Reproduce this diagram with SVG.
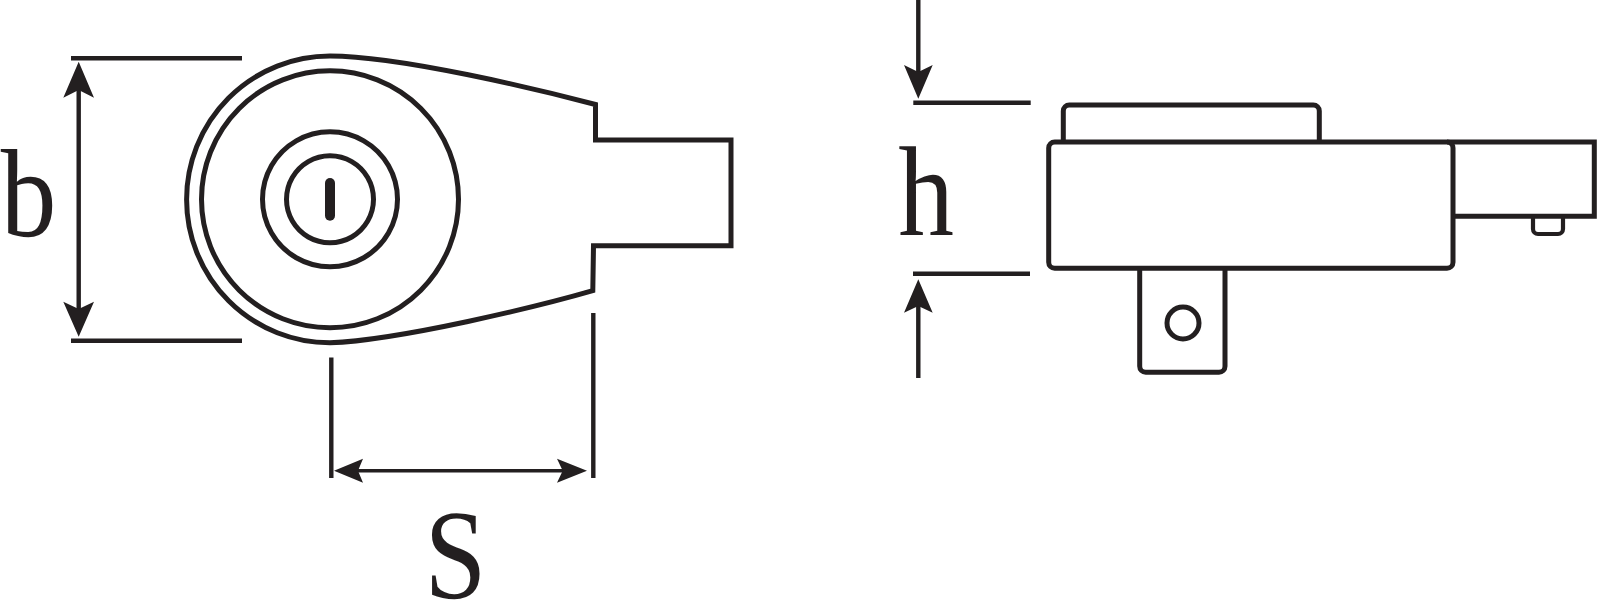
<svg xmlns="http://www.w3.org/2000/svg" width="1597" height="601" viewBox="0 0 1597 601">
<style>
.l{fill:none;stroke:#231f20;stroke-width:5;stroke-linejoin:miter}
.d{fill:none;stroke:#231f20;stroke-width:4.400}
.h{fill:#231f20;stroke:none}
.t{font-family:"Liberation Serif",serif;font-size:128px;fill:#231f20;text-rendering:geometricPrecision}
</style>
<rect width="1597" height="601" fill="#fff"/>
<g id="front-view">
<path class="l" d="M330 56C400 56 540 90 595.500 104.500V140H731V245.700H593.500L592.800 290.700C540 306 400 340 330 342.800A143.400 143.400 0 0 1 330 56Z"/>
<circle class="l" cx="330" cy="199.300" r="128.500"/>
<path class="l" d="M397.500 199.300A67.500 67.500 0 0 0 388.460 165.550A67.500 67.500 0 0 0 363.750 140.840A67.500 67.500 0 0 0 330 131.800A67.500 67.500 0 0 0 296.250 140.840A67.500 67.500 0 0 0 271.540 165.550A67.500 67.500 0 0 0 262.500 199.300A67.500 67.500 0 0 0 271.540 233.050A67.500 67.500 0 0 0 296.250 257.760A67.500 67.500 0 0 0 330 266.800A67.500 67.500 0 0 0 363.750 257.760A67.500 67.500 0 0 0 388.460 233.050A67.500 67.500 0 0 0 397.500 199.300Z"/>
<path class="l" d="M373.500 199.300A43.500 43.500 0 0 0 367.670 177.550A43.500 43.500 0 0 0 351.750 161.630A43.500 43.500 0 0 0 330 155.800A43.500 43.500 0 0 0 308.250 161.630A43.500 43.500 0 0 0 292.330 177.550A43.500 43.500 0 0 0 286.500 199.300A43.500 43.500 0 0 0 292.330 221.050A43.500 43.500 0 0 0 308.250 236.970A43.500 43.500 0 0 0 330 242.800A43.500 43.500 0 0 0 351.750 236.970A43.500 43.500 0 0 0 367.670 221.050A43.500 43.500 0 0 0 373.500 199.300Z"/>
<rect x="325" y="178" width="10" height="42.700" rx="5" fill="#231f20"/>
</g>
<g id="side-view">
<path class="l" d="M1063.300 142V111A6 6 0 0 1 1069.300 105H1313.300A6 6 0 0 1 1319.300 111V142"/>
<path class="l" d="M1139.700 268.300V366.300A6 6 0 0 0 1145.700 372.300H1219A6 6 0 0 0 1225 366.300V268.300"/>
<circle class="l" cx="1183" cy="323" r="16"/>
<path class="l" d="M1447 142H1594.300V216.300H1453"/>
<path class="l" style="stroke-width:4.200" d="M1533 216.300V229A5 5 0 0 0 1538 234H1558A5 5 0 0 0 1563 229V216.300"/>
<rect class="l" x="1048.700" y="142" width="404.300" height="126.300" rx="6"/>
</g>
<g id="connectors">
<path class="d" d="M71 58.300H242M71 340.700H242M78.700 90V309"/>
<path class="h" d="M78.700 61.700L94 97.700L78.700 90L63.300 97.700Z"/>
<path class="h" d="M78.700 336.700L94 301.700L78.700 309L63.300 301.700Z"/>
<path class="d" d="M331.300 357.500V478M593.300 313V478"/>
<path class="d" style="stroke-width:3.400" d="M358 470.700H563"/>
<path class="h" d="M334 470.700L363 458.700L358 470.700L363 482.700Z"/>
<path class="h" d="M587 470.700L557 458.700L562.700 470.700L557 482.700Z"/>
<path class="d" d="M918.300 0V72M913.300 102.700H1030.700M913 273.700H1030M918.300 306V378"/>
<path class="h" d="M918.300 98.700L932.700 65L918.300 72L904 65Z"/>
<path class="h" d="M918.300 279.300L932.700 312.700L918.300 306L904 312.700Z"/>
</g>
<g id="labels">
<text class="t" transform="translate(0.700 235.500) scale(.87 .98)">b</text>
<text class="t" transform="translate(424.600 598) scale(.87 1)">S</text>
<text class="t" transform="translate(898.300 234.800) scale(.87 1)">h</text>
</g>
</svg>
